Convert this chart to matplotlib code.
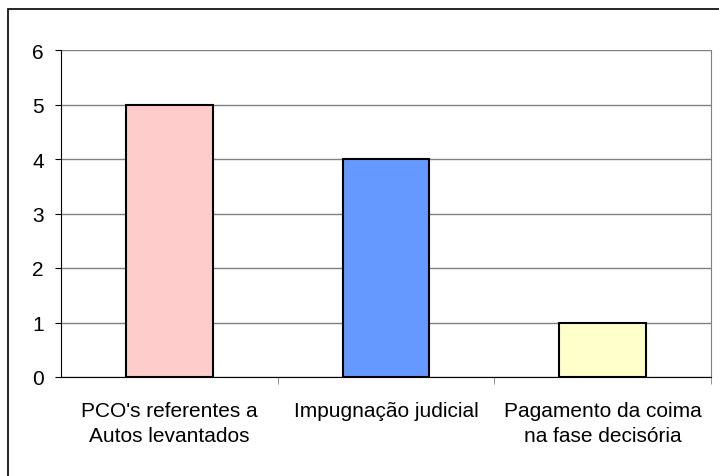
import matplotlib.pyplot as plt
from matplotlib.patches import Rectangle

categories = ["PCO's referentes a\nAutos levantados", "Impugnação judicial",
              "Pagamento da coima\nna fase decisória"]
values = [5, 4, 1]
colors = ["#FFCCCC", "#6699FF", "#FFFFCC"]

plt.rcParams['font.family'] = ['Liberation Sans', 'DejaVu Sans']

W, H = 719, 477
fig = plt.figure(figsize=(W / 100, H / 100), dpi=100)

# outer chart border (right and bottom fall off the picture)
fig.patches.append(Rectangle((8 / W, -0.1), 1.2, (H - 10) / H + 0.1,
                             transform=fig.transFigure, fill=False,
                             edgecolor="black", linewidth=1.2))

ax = fig.add_axes([61 / W, 99 / H, 650 / W, 327 / H])
x = range(len(values))
ax.bar(x, values, width=0.4, color=colors, edgecolor="black", linewidth=1.5, zorder=3)

ax.set_xlim(-0.5, 2.5)
ax.set_ylim(0, 6)
ax.set_yticks(range(7))
ax.yaxis.grid(True, color="#808080", linewidth=1, zorder=0)

ax.set_xticks(list(x))
ax.set_xticklabels(categories, linespacing=1.45)
ax.set_xticks([0.5, 1.5, 2.5], minor=True)
ax.tick_params(axis="x", which="major", length=0, pad=17, labelsize=15)
ax.tick_params(axis="x", which="minor", length=5, direction="out", color="#808080")
ax.tick_params(axis="y", length=4.5, direction="out", labelsize=15, pad=8)

ax.spines["top"].set_visible(False)
ax.spines["right"].set_color("#808080")
ax.spines["left"].set_color("black")
ax.spines["bottom"].set_color("black")

fig.savefig("out.png", dpi=100)
